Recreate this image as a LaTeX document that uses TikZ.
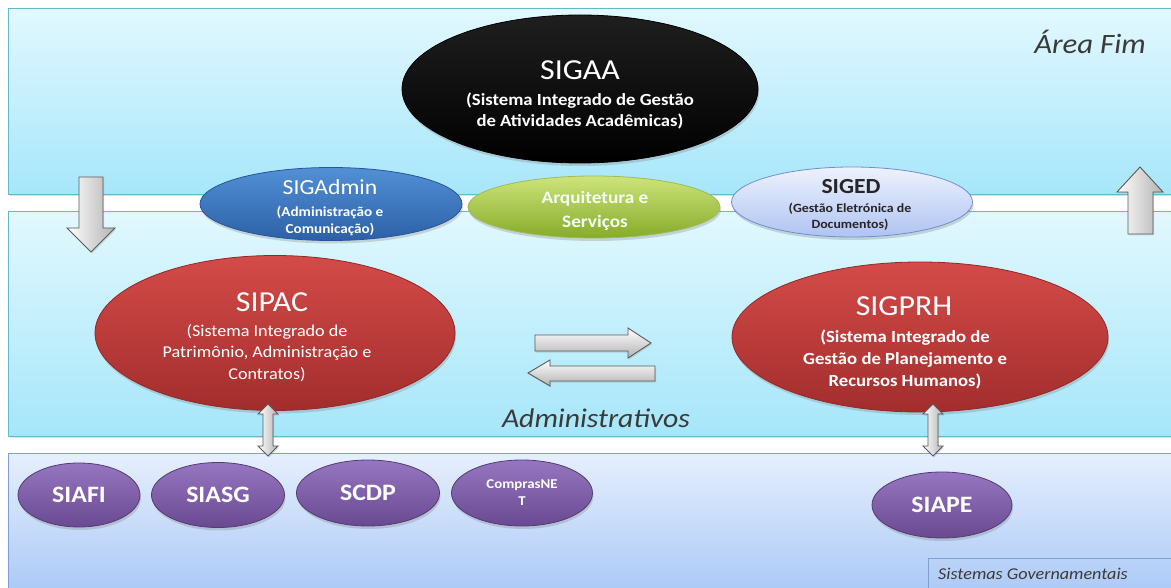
\documentclass[tikz,border=0pt]{standalone}
\usepackage{fontspec}
\setmainfont{Carlito}[FakeStretch=1.1]
\usetikzlibrary{shapes.geometric,shadows}
\definecolor{pantop}{HTML}{E2F8FE}
\definecolor{panbot}{HTML}{A6E6FA}
\definecolor{panline}{HTML}{62B8CC}
\definecolor{govtop}{HTML}{E6EFFD}
\definecolor{govbot}{HTML}{A8C7F6}
\definecolor{govline}{HTML}{7F9FD2}
\definecolor{bluetop}{HTML}{5290D6}
\definecolor{bluebot}{HTML}{2C60A6}
\definecolor{greentop}{HTML}{CDE47A}
\definecolor{greenbot}{HTML}{86AB2A}
\definecolor{lavtop}{HTML}{EEF2FE}
\definecolor{lavbot}{HTML}{AFC3F2}
\definecolor{lavline}{HTML}{6F8FCF}
\definecolor{redtop}{HTML}{D44B48}
\definecolor{redbot}{HTML}{A22D2D}
\definecolor{purtop}{HTML}{9676C0}
\definecolor{purbot}{HTML}{694A91}
\definecolor{arrline}{HTML}{5A5A5A}
\definecolor{labgray}{HTML}{3A3A3A}
\begin{document}
\begin{tikzpicture}[x=1pt,y=-1pt,
  panel/.style={draw=panline,line width=1pt,top color=pantop,bottom color=panbot,
     drop shadow={shadow xshift=1.5pt,shadow yshift=-1.5pt,opacity=0.25}},
  govpanel/.style={draw=govline,line width=1pt,top color=govtop,bottom color=govbot},
  ell/.style={ellipse,inner sep=0pt,line width=0.8pt,
     drop shadow={shadow xshift=1pt,shadow yshift=-3pt,opacity=0.3}},
  blueell/.style={ell,draw=bluebot!90!black,top color=bluetop,bottom color=bluebot},
  greenell/.style={ell,draw=greenbot!80,top color=greentop,bottom color=greenbot},
  lavell/.style={ell,draw=lavline,top color=lavtop,bottom color=lavbot},
  redell/.style={ell,draw=redbot!90!black,top color=redtop,bottom color=redbot},
  purell/.style={ell,draw=purbot!80!black,top color=purtop,bottom color=purbot},
  blackell/.style={ell,draw=black,top color=black!88,bottom color=black},
  txt/.style={inner sep=0pt,align=center,text=white},
  blockarrow/.style={draw=arrline,line width=0.9pt,top color=white,bottom color=black!30,
     drop shadow={shadow xshift=1pt,shadow yshift=-1.5pt,opacity=0.25}},
  vblockarrow/.style={draw=arrline,line width=0.9pt,left color=white,right color=black!30,
     drop shadow={shadow xshift=1pt,shadow yshift=-1.5pt,opacity=0.25}},
  paneltext/.style={inner sep=0pt,text=labgray,font=\itshape}
]
\useasboundingbox (0,0) rectangle (1171,588);
\clip (0,0) rectangle (1171,588);

% panels
\path[panel] (8,9) rectangle (1185,195);
\path[panel] (8,212) rectangle (1185,436);
\path[govpanel] (8,453) rectangle (1185,600);
\path[govpanel,top color=govbot!70!govtop,bottom color=govbot] (928,558) rectangle (1185,600);

% panel labels
\node[paneltext,font=\fontsize{28}{30}\selectfont\itshape] (areafim) at (1090,42) {Área Fim};
\node[paneltext,font=\fontsize{27}{29}\selectfont\itshape] (adm) at (596,418) {Administrativos};
\node[paneltext,anchor=west,font=\fontsize{16.5}{18}\selectfont\itshape] (gov) at (938,574) {Sistemas Governamentais};

% top systems
\node[blackell,minimum width=356pt,minimum height=148pt] (sigaa) at (580,89) {};
\node[txt,font=\fontsize{29}{31}\selectfont] (sigaa-t) at (580,70) {SIGAA};
\node[txt,font=\fontsize{17}{21}\selectfont\bfseries] (sigaa-s) at (580,111)
  {(Sistema Integrado de Gestão\\de Atividades Acadêmicas)};

\node[blueell,minimum width=262pt,minimum height=73pt] (sigadmin) at (331,204) {};
\node[txt,font=\fontsize{21.5}{24}\selectfont] (sigadmin-t) at (330,187) {SIGAdmin};
\node[txt,font=\fontsize{13.8}{16.5}\selectfont\bfseries] (sigadmin-s) at (330,221)
  {(Administração e\\Comunicação)};

\node[greenell,minimum width=252pt,minimum height=62pt] (arq) at (594,207) {};
\node[txt,text=white!96!green,font=\fontsize{17.5}{24}\selectfont\bfseries] (arq-t) at (595,211)
  {Arquitetura e\\Serviços};

\node[lavell,minimum width=241pt,minimum height=70pt] (siged) at (852,202) {};
\node[txt,text=black!85,font=\fontsize{21.5}{24}\selectfont\bfseries] (siged-t) at (851,187) {SIGED};
\node[txt,text=black!85,font=\fontsize{12.6}{15.5}\selectfont\bfseries] (siged-s) at (850,217)
  {(Gestão Eletrónica de\\Documentos)};

% administrative systems
\node[redell,minimum width=360pt,minimum height=155pt] (sipac) at (275,333) {};
\node[txt,font=\fontsize{29}{31}\selectfont] (sipac-t) at (272,302) {SIPAC};
\node[txt,font=\fontsize{16.5}{21.5}\selectfont] (sipac-s) at (267,353)
  {(Sistema Integrado de\\Patrimônio, Administração e\\Contratos)};

\node[redell,minimum width=376pt,minimum height=150pt] (sigprh) at (920,337) {};
\node[txt,font=\fontsize{29}{31}\selectfont] (sigprh-t) at (904,306) {SIGPRH};
\node[txt,font=\fontsize{17}{22}\selectfont\bfseries] (sigprh-s) at (905,359)
  {(Sistema Integrado de\\Gestão de Planejamento e\\Recursos Humanos)};

% government systems
\node[purell,minimum width=122pt,minimum height=64pt] (siafi) at (79,495) {};
\node[txt,font=\fontsize{23.5}{25}\selectfont\bfseries] (siafi-t) at (79,495) {SIAFI};
\node[purell,minimum width=133pt,minimum height=65pt] (siasg) at (218,495) {};
\node[txt,font=\fontsize{23.5}{25}\selectfont\bfseries] (siasg-t) at (218,495) {SIASG};
\node[purell,minimum width=143pt,minimum height=66pt] (scdp) at (368,493) {};
\node[txt,font=\fontsize{23.5}{25}\selectfont\bfseries] (scdp-t) at (368,493) {SCDP};
\node[purell,minimum width=141pt,minimum height=66pt] (compras) at (522,493) {};
\node[txt,font=\fontsize{13.5}{17}\selectfont\bfseries] (compras-t) at (522,493) {ComprasNE\\T};
\node[purell,minimum width=140pt,minimum height=66pt] (siape) at (942,505) {};
\node[txt,font=\fontsize{23.5}{25}\selectfont\bfseries] (siape-t) at (942,505) {SIAPE};

% big vertical arrows
\path[vblockarrow] (79,177) -- (103,177) -- (103,228) -- (115,228) -- (91,252)
  -- (67,228) -- (79,228) -- cycle;
\path[vblockarrow] (1140,167) -- (1163,192) -- (1153,192) -- (1153,234) -- (1128,234)
  -- (1128,192) -- (1117,192) -- cycle;

% horizontal exchange arrows
\path[blockarrow] (535,335) -- (628,335) -- (628,328) -- (651,343) -- (628,358)
  -- (628,351) -- (535,351) -- cycle;
\path[blockarrow] (528,373) -- (550,360) -- (550,366) -- (655,366) -- (655,381)
  -- (550,381) -- (550,386) -- cycle;

% small double arrows to government systems
\path[vblockarrow] (268,404) -- (278,414) -- (273,414) -- (273,446) -- (278,446)
  -- (268,456) -- (258,446) -- (263,446) -- (263,414) -- (258,414) -- cycle;
\path[vblockarrow] (933,404) -- (943,414) -- (938,414) -- (938,446) -- (943,446)
  -- (933,456) -- (923,446) -- (928,446) -- (928,414) -- (923,414) -- cycle;
\end{tikzpicture}
\end{document}
